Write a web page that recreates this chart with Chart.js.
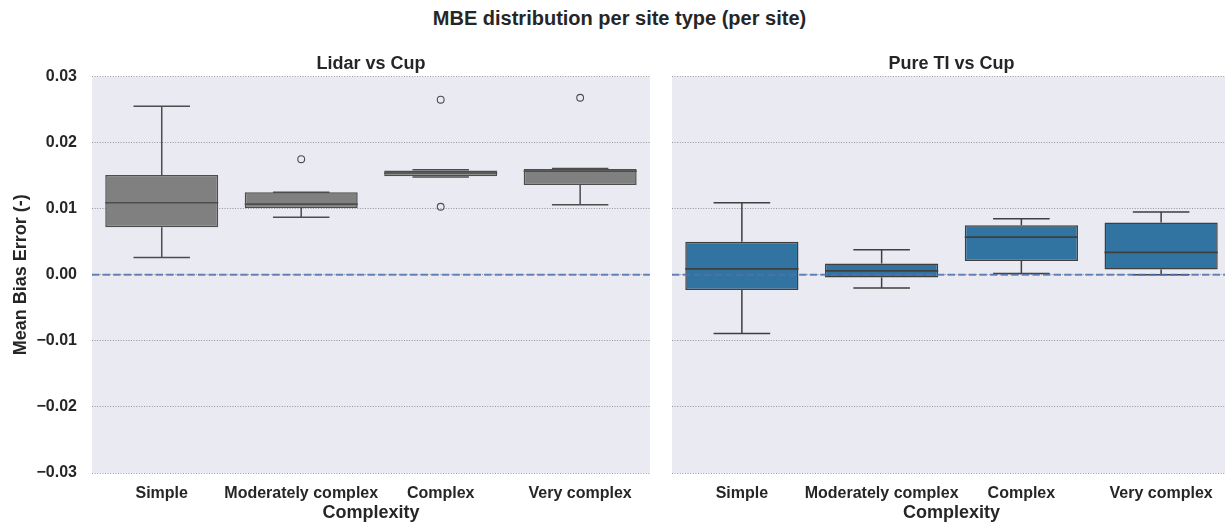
<!DOCTYPE html>
<html>
<head>
<meta charset="utf-8">
<script src="https://cdn.jsdelivr.net/npm/chart.js@4.4.1/dist/chart.umd.min.js"></script>
<style>
  html, body { margin: 0; padding: 0; background: #ffffff; overflow: hidden; width: 1225px; height: 522px; }
  #suptitle { position: absolute; left: 0; top: 6px; width: 1239px; text-align: center;
              font: bold 20px "Liberation Sans", Arial, sans-serif; color: #262626; line-height: 24px; }
  #left { position: absolute; left: 0; top: 0; }
  #right { position: absolute; left: 655px; top: 0; }
</style>
</head>
<body>
<div id="suptitle">MBE distribution per site type (per site)</div>
<canvas id="left" width="655" height="522"></canvas>
<canvas id="right" width="600" height="522"></canvas>
<script>
// Site complexity classes (x categories)
const complexity = ['Simple', 'Moderately complex', 'Complex', 'Very complex'];

// Shared y ticks (Mean Bias Error)
const yTickValues = [-0.03, -0.02, -0.01, 0.00, 0.01, 0.02, 0.03];

// Lidar vs Cup: box statistics per complexity class
const lidarLow    = [0.0026, 0.0087, 0.0148, 0.0106];
const lidarQ1     = [0.0072, 0.0101, 0.0149, 0.0136];
const lidarMedian = [0.0109, 0.0107, 0.0154, 0.0157];
const lidarQ3     = [0.0151, 0.0125, 0.0158, 0.0160];
const lidarHigh   = [0.0255, 0.0125, 0.0159, 0.0161];
const lidarOutlierClass = ['Moderately complex', 'Complex', 'Complex', 'Very complex'];
const lidarOutlierValue = [0.0175, 0.0265, 0.0103, 0.0268];

// Pure TI vs Cup: box statistics per complexity class
const pureLow    = [-0.0089, -0.0020, 0.0002, 0.0000];
const pureQ1     = [-0.0023, -0.0004, 0.0021, 0.0008];
const pureMedian = [0.0009, 0.0006, 0.0057, 0.0034];
const pureQ3     = [0.0050, 0.0017, 0.0075, 0.0079];
const pureHigh   = [0.0109, 0.0038, 0.0085, 0.0095];
const pureOutlierClass = [];
const pureOutlierValue = [];

const FONT = "'Liberation Sans', Arial, sans-serif";
const TEXT = '#262626';
Chart.defaults.font.family = FONT;
Chart.defaults.color = TEXT;

function fmtTick(v) {
  const r = Math.round(v * 100) / 100;
  return (r < 0 ? '\u2212' : '') + Math.abs(r).toFixed(2);
}

// Draws the panel background, whiskers, caps, medians and the zero reference line
function boxParts(stats, lineColor) {
  return {
    id: 'boxParts',
    beforeDraw(chart) {
      const a = chart.chartArea, ctx = chart.ctx;
      ctx.save();
      ctx.fillStyle = '#EAEAF2';
      ctx.fillRect(a.left, a.top, a.width, a.height);
      ctx.restore();
    },
    beforeDatasetsDraw(chart) {
      const ctx = chart.ctx, y = chart.scales.y;
      const meta = chart.getDatasetMeta(0);
      ctx.save();
      ctx.strokeStyle = lineColor;
      ctx.lineWidth = 1.5;
      meta.data.forEach((el, i) => {
        const p = el.getProps(['x', 'width'], true);
        const cap = p.width / 4;
        const yLo = y.getPixelForValue(stats.low[i]);
        const yHi = y.getPixelForValue(stats.high[i]);
        const yQ1 = y.getPixelForValue(stats.q1[i]);
        const yQ3 = y.getPixelForValue(stats.q3[i]);
        ctx.beginPath();
        ctx.moveTo(p.x, yQ1); ctx.lineTo(p.x, yLo);
        ctx.moveTo(p.x, yQ3); ctx.lineTo(p.x, yHi);
        ctx.moveTo(p.x - cap, yLo); ctx.lineTo(p.x + cap, yLo);
        ctx.moveTo(p.x - cap, yHi); ctx.lineTo(p.x + cap, yHi);
        ctx.stroke();
      });
      ctx.restore();
    },
    afterDatasetsDraw(chart) {
      const ctx = chart.ctx, y = chart.scales.y, a = chart.chartArea;
      const meta = chart.getDatasetMeta(0);
      ctx.save();
      ctx.strokeStyle = lineColor;
      ctx.lineWidth = 1.6;
      meta.data.forEach((el, i) => {
        const p = el.getProps(['x', 'width'], true);
        const ym = y.getPixelForValue(stats.median[i]);
        ctx.beginPath();
        ctx.moveTo(p.x - p.width / 2, ym); ctx.lineTo(p.x + p.width / 2, ym);
        ctx.stroke();
      });
      const y0 = y.getPixelForValue(0);
      ctx.strokeStyle = 'rgba(76,114,176,0.85)';
      ctx.lineWidth = 2;
      ctx.setLineDash([7.4, 3.2]);
      ctx.beginPath();
      ctx.moveTo(a.left, y0); ctx.lineTo(a.right, y0);
      ctx.stroke();
      ctx.restore();
    }
  };
}

function makePanel(canvasId, cfg) {
  const stats = { low: cfg.low, q1: cfg.q1, median: cfg.median, q3: cfg.q3, high: cfg.high };
  const outliers = cfg.outClass.map((c, i) => ({ x: c, y: cfg.outValue[i] }));
  return new Chart(document.getElementById(canvasId), {
    type: 'bar',
    data: {
      labels: complexity,
      datasets: [
        {
          type: 'bar', xAxisID: 'x', yAxisID: 'y',
          data: complexity.map((_, i) => [cfg.q1[i], cfg.q3[i]]),
          backgroundColor: cfg.fill, borderColor: cfg.line, borderWidth: 1.5,
          borderSkipped: false, barPercentage: 0.81, categoryPercentage: 1.0
        },
        {
          type: 'line', xAxisID: 'x', yAxisID: 'y',
          data: outliers, showLine: false,
          pointRadius: 3.4, pointBorderWidth: 1.1,
          pointBackgroundColor: 'rgba(0,0,0,0)', pointBorderColor: cfg.line
        }
      ]
    },
    options: {
      responsive: false, animation: false, events: [],
      layout: { padding: { top: 53, left: 0, right: cfg.padRight, bottom: 0 } },
      plugins: {
        legend: { display: false }, tooltip: { enabled: false },
        title: {
          display: true, text: cfg.title, fullSize: false, color: TEXT,
          font: { size: 18, weight: 'bold' }, padding: { top: 0, bottom: 2 }
        }
      },
      scales: {
        x: {
          type: 'category', position: 'bottom', offset: true,
          grid: { display: false, drawTicks: false }, border: { display: false },
          ticks: { autoSkip: false, maxRotation: 0, padding: 11, color: TEXT, font: { size: 16, weight: 'bold' } },
          title: { display: true, text: 'Complexity', color: TEXT, font: { size: 18, weight: 'bold', lineHeight: 1.0 }, padding: 0 },
          afterFit(s) { s.height = 49; }
        },
        y: {
          type: 'linear', position: 'left', min: -0.03, max: 0.03,
          afterBuildTicks(s) { s.ticks = yTickValues.map(v => ({ value: v })); },
          grid: { color: 'rgba(120,120,120,0.75)', lineWidth: 1, drawTicks: false },
          border: { display: false, dash: [1, 1.6] },
          ticks: {
            display: cfg.showY, padding: 15, color: TEXT,
            font: { size: 16, weight: 'bold' },
            callback: v => fmtTick(v)
          },
          title: {
            display: cfg.showY, text: 'Mean Bias Error (-)', color: TEXT,
            font: { size: 18, weight: 'bold', lineHeight: 1.0 }, padding: { top: 12, bottom: 0 }
          },
          afterFit(s) { s.width = cfg.yWidth; }
        }
      }
    },
    plugins: [boxParts(stats, cfg.line)]
  });
}

makePanel('left', {
  title: 'Lidar vs Cup', showY: true, yWidth: 92, padRight: 4,
  low: lidarLow, q1: lidarQ1, median: lidarMedian, q3: lidarQ3, high: lidarHigh,
  outClass: lidarOutlierClass, outValue: lidarOutlierValue,
  fill: '#808080', line: '#4d4d4d'
});

makePanel('right', {
  title: 'Pure TI vs Cup', showY: false, yWidth: 17, padRight: 24,
  low: pureLow, q1: pureQ1, median: pureMedian, q3: pureQ3, high: pureHigh,
  outClass: pureOutlierClass, outValue: pureOutlierValue,
  fill: '#3274A1', line: '#3f3f3f'
});
</script>
</body>
</html>
